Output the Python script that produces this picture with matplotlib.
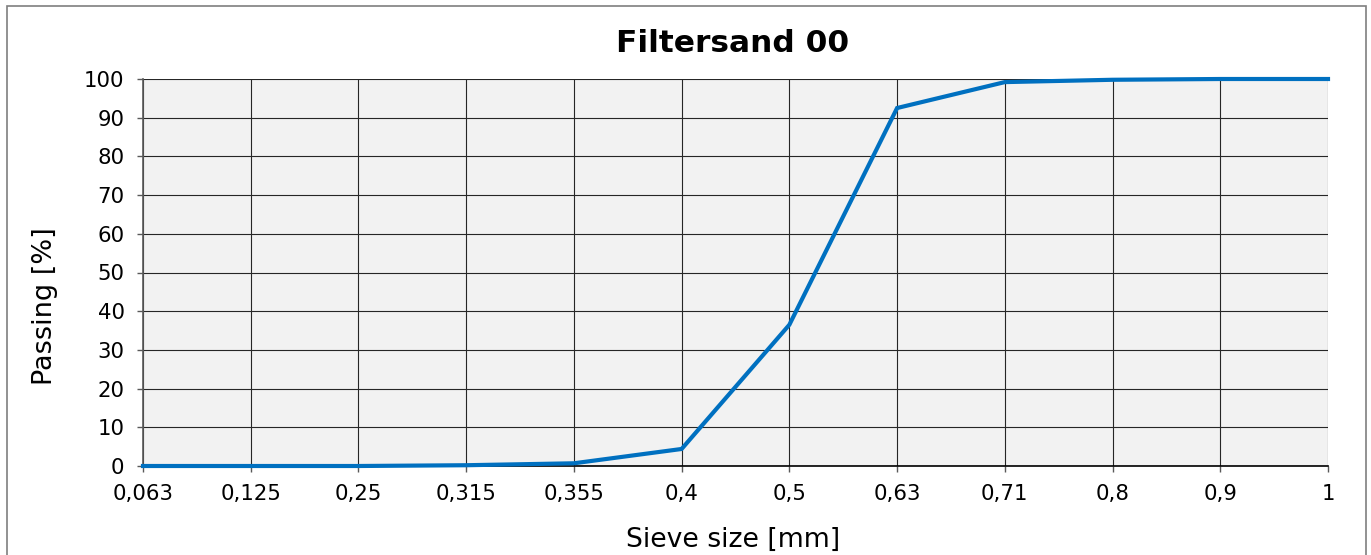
import matplotlib
matplotlib.use("Agg")
import matplotlib.pyplot as plt
from matplotlib.patches import Rectangle

# ===== data
sieve_labels = ["0,063", "0,125", "0,25", "0,315", "0,355", "0,4",
                "0,5", "0,63", "0,71", "0,8", "0,9", "1"]
passing = [0.0, 0.0, 0.0, 0.2, 0.7, 4.4, 36.5, 92.5, 99.2, 99.8, 100.0, 100.0]
y_ticks = [0, 10, 20, 30, 40, 50, 60, 70, 80, 90, 100]


def main():
    W, H = 1371, 555
    fig = plt.figure(figsize=(W / 100, H / 100), dpi=100)
    ax = fig.add_axes([143 / W, 1 - 466 / H, 1185 / W, 387 / H])

    # outer frame of the chart area (bottom edge is cut off in the original)
    fig.patches.append(Rectangle((7 / W, -0.05), 1359 / W, 1 - 6 / H + 0.05,
                                 transform=fig.transFigure, fill=False,
                                 edgecolor="#7f7f7f", linewidth=1.2))

    x = list(range(len(sieve_labels)))
    ax.set_facecolor("#f2f2f2")
    ax.plot(x, passing, color="#0070c0", linewidth=3, solid_joinstyle="miter",
            zorder=3, clip_on=False)

    ax.set_xlim(0, len(sieve_labels) - 1)
    ax.set_ylim(0, 100)
    ax.set_xticks(x)
    ax.set_xticklabels(sieve_labels)
    ax.set_yticks(y_ticks)
    ax.grid(True, color="#262626", linewidth=0.8)
    ax.set_axisbelow(True)

    for side in ["top", "right"]:
        ax.spines[side].set_visible(False)
    ax.spines["left"].set_color("#595959")
    ax.spines["left"].set_linewidth(1.2)
    ax.spines["bottom"].set_color("black")
    ax.spines["bottom"].set_linewidth(1.2)
    ax.tick_params(axis="both", labelsize=15.3, length=4.3, width=1,
                   color="#595959")
    ax.tick_params(axis="x", pad=8.5)
    ax.tick_params(axis="y", pad=9)

    # axis titles and chart title
    fig.text(733 / W, 1 - 540 / H, "Sieve size [mm]", fontsize=19.2,
             ha="center", va="center")
    fig.text(45 / W, 1 - 306 / H, "Passing [%]", fontsize=19.5,
             rotation=90, ha="center", va="center")
    fig.text(733 / W, 1 - 44 / H, "Filtersand 00", fontsize=22.5,
             fontweight="bold", ha="center", va="center")

    fig.savefig("out.png", dpi=100)


if __name__ == "__main__":
    main()
